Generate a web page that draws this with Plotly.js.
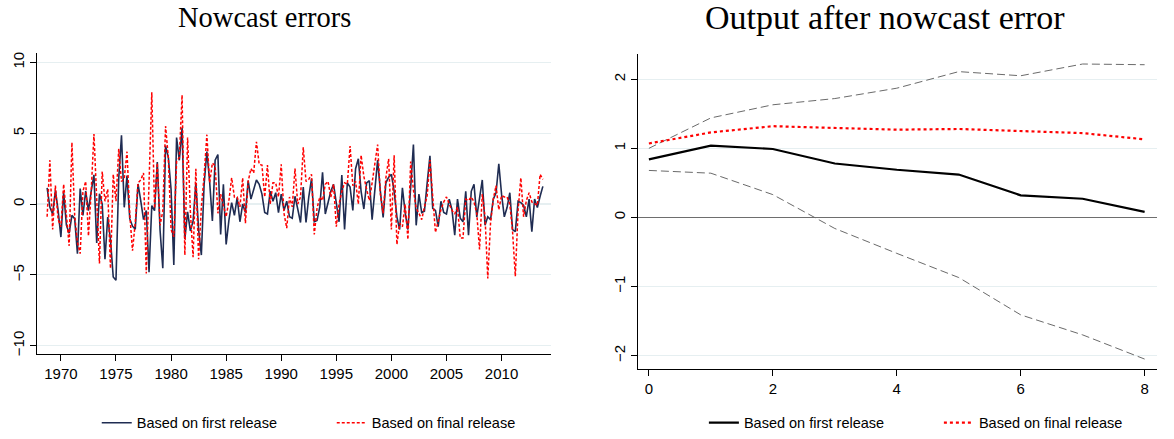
<!DOCTYPE html>
<html>
<head>
<meta charset="utf-8">
<script src="https://cdn.plot.ly/plotly-3.0.1.min.js"></script>
<style>html,body{margin:0;padding:0;background:#fff;}#chart{width:1174px;height:439px;}</style>
</head>
<body>
<div id="chart"></div>
<script>
// ---- Left panel: quarterly nowcast errors, 1968Q4 .. 2013Q4 ----
const startQuarter = 1968.75;   // 1968Q4
const quarterStep = 0.25;
const firstRelease = [
 1.14,-0.23,-0.69,0.96,-0.46,-2.33,0.80,-1.49,-2.06,-0.80,
 -1.03,-3.50,1.10,-0.80,0.92,-0.46,0.92,2.06,-2.75,0.73,
 0.00,-3.89,-0.92,-2.52,-5.15,-5.38,1.83,4.85,-0.23,2.01,
 -1.03,-1.56,-1.78,1.42,0.23,-1.10,-0.46,-4.81,-0.11,-0.46,
 2.97,-1.83,-4.53,4.12,3.32,1.03,-4.30,4.69,3.09,5.38,
 -2.47,-0.55,-1.90,-1.20,1.50,-1.80,-3.60,1.40,3.70,1.60,
 -1.20,3.10,3.50,-2.15,1.40,-2.85,-1.15,0.10,-0.80,0.45,
 -1.25,0.00,-0.60,1.65,0.35,1.10,1.70,1.40,0.70,-0.60,
 -0.70,0.90,0.20,0.80,-0.60,0.70,-0.45,0.20,-0.90,-1.00,
 0.55,-0.35,-1.30,1.20,-1.30,0.50,1.80,-1.25,-1.15,-0.20,
 2.25,-0.70,0.20,0.90,1.40,0.00,-1.25,2.05,-1.80,1.50,
 1.20,-0.45,2.50,3.20,0.90,-0.35,1.50,1.65,-1.10,1.00,
 3.10,0.90,-0.95,1.50,1.90,2.10,0.90,-0.90,-1.80,1.15,
 -0.60,-1.80,1.40,4.20,-1.50,0.70,-0.60,-0.50,1.50,3.40,
 -0.30,-0.45,-1.60,0.20,-0.60,-0.70,0.35,-0.40,-2.20,0.35,
 -1.00,-1.25,0.90,-2.20,0.90,1.40,-0.90,0.30,1.70,-1.50,
 -0.90,-1.10,0.35,0.80,2.85,0.70,-0.90,-0.25,0.80,-1.80,
 -1.95,0.20,0.10,-0.10,-0.90,0.35,-1.95,0.35,-0.25,0.55,1.25
];
const finalRelease = [
 -0.90,3.10,-1.80,1.30,-1.10,-1.60,1.40,-0.70,-2.95,4.35,
 -0.80,-2.70,-3.50,0.90,1.60,-2.25,0.90,4.95,0.20,-4.20,
 2.30,0.20,1.05,-4.55,2.10,0.20,3.90,1.60,1.80,3.70,
 -0.70,-3.30,-1.30,1.50,1.70,2.20,-4.90,1.00,7.90,-0.30,
 2.90,-1.50,-0.50,5.50,3.30,-1.80,-2.30,3.00,3.30,7.70,
 -3.60,4.70,-0.50,-3.75,2.50,-3.90,-0.20,2.00,4.90,1.50,
 2.90,2.70,-0.65,0.70,-0.20,-0.90,0.25,1.85,0.50,0.50,
 -0.20,1.85,-1.35,1.60,2.50,2.20,4.40,2.80,2.75,0.50,
 2.75,0.00,1.50,1.50,0.50,2.80,-0.65,-1.70,0.50,-0.20,
 2.50,0.00,0.50,4.00,1.60,1.75,2.10,-2.15,-0.30,0.50,
 0.25,1.40,1.60,0.50,1.40,-1.60,0.00,0.90,1.50,1.40,
 4.10,1.30,1.60,0.00,3.45,1.95,1.05,0.25,1.50,3.00,
 4.20,0.70,-0.65,1.85,3.20,-1.80,3.45,-2.85,-1.35,-1.60,
 0.00,-2.50,3.00,1.00,-0.30,-0.65,-1.10,-0.20,0.60,3.10,
 0.25,-2.00,-1.20,-0.40,0.15,0.50,0.00,-0.45,-0.70,-0.20,
 -2.40,-2.40,0.35,0.25,0.50,0.15,-0.65,-3.20,0.70,-0.90,
 -5.25,-1.35,0.35,1.30,-0.40,0.60,0.50,0.50,0.00,-1.95,
 -5.10,-0.45,1.85,-0.90,0.25,0.80,0.15,0.00,-0.10,2.10,1.75
];
const leftXTicks = [1970,1975,1980,1985,1990,1995,2000,2005,2010];
const leftYTicks = [-10,-5,0,5,10];
const leftYLabels = ['\u221210','\u22125','0','5','10'];

// ---- Right panel: response of output after nowcast error ----
const horizon = [0,1,2,3,4,5,6,7,8];
const irfFirst = [0.84,1.04,0.99,0.78,0.69,0.62,0.32,0.27,0.08];
const irfFinal = [1.07,1.23,1.32,1.29,1.27,1.28,1.25,1.22,1.13];
const bandUpper = [1.00,1.44,1.63,1.72,1.87,2.11,2.05,2.22,2.21];
const bandLower = [0.68,0.64,0.33,-0.16,-0.52,-0.87,-1.41,-1.70,-2.05];
const rightXTicks = [0,2,4,6,8];
const rightYTicks = [-2,-1,0,1,2];
const rightYLabels = ['\u22122','\u22121','0','1','2'];

const legendLabels = ['Based on first release','Based on final release'];
const titles = ['Nowcast errors','Output after nowcast error'];

const sans = 'Liberation Sans, Arial, sans-serif';
const serif = 'Liberation Serif, Times New Roman, serif';
const navy = '#1f2c52';
const red = '#ff0000';

const traces = [
  {x0:startQuarter, dx:quarterStep, y:firstRelease, type:'scatter', mode:'lines',
   name:legendLabels[0], line:{color:navy, width:1.6}, xaxis:'x', yaxis:'y', legend:'legend'},
  {x0:startQuarter, dx:quarterStep, y:finalRelease, type:'scatter', mode:'lines',
   name:legendLabels[1], line:{color:red, width:1.5, dash:'3px,2px'}, xaxis:'x', yaxis:'y', legend:'legend'},
  {x:horizon, y:bandUpper, type:'scatter', mode:'lines', showlegend:false,
   line:{color:'#6a6a6a', width:1, dash:'8px,4px'}, xaxis:'x2', yaxis:'y2'},
  {x:horizon, y:bandLower, type:'scatter', mode:'lines', showlegend:false,
   line:{color:'#6a6a6a', width:1, dash:'8px,4px'}, xaxis:'x2', yaxis:'y2'},
  {x:horizon, y:irfFirst, type:'scatter', mode:'lines',
   name:legendLabels[0], line:{color:'#000000', width:2.2}, xaxis:'x2', yaxis:'y2', legend:'legend2'},
  {x:horizon, y:irfFinal, type:'scatter', mode:'lines',
   name:legendLabels[1], line:{color:red, width:2.2, dash:'dot'}, xaxis:'x2', yaxis:'y2', legend:'legend2'}
];

const tickFont = {family:sans, size:15, color:'#000'};
const baseX = {ticks:'outside', ticklen:6, tickwidth:1, tickcolor:'#000', showline:true,
  linecolor:'#000', linewidth:1, showgrid:false, zeroline:false, tickfont:tickFont,
  fixedrange:true};
const baseY = Object.assign({}, baseX, {showgrid:true, gridcolor:'#e6eff1', gridwidth:1.2, tickangle:-90});

const legendBase = {orientation:'h', yanchor:'bottom', y:-0.03, xanchor:'left',
  font:{family:sans, size:14.5, color:'#000'}, bgcolor:'rgba(0,0,0,0)',
  entrywidth:190, entrywidthmode:'pixels', tracegroupgap:0};

const layout = {
  width:1174, height:439,
  margin:{l:0, r:0, t:0, b:0},
  paper_bgcolor:'#fff', plot_bgcolor:'#fff',
  showlegend:true,
  xaxis:Object.assign({}, baseX, {domain:[37.7/1174, 557.7/1174], range:[1967.85, 2014.45],
    tickvals:leftXTicks, anchor:'y'}),
  yaxis:Object.assign({}, baseY, {domain:[1-365/439, 1-55/439], range:[-10.6, 10.64],
    tickvals:leftYTicks, ticktext:leftYLabels, anchor:'x'}),
  xaxis2:Object.assign({}, baseX, {domain:[646/1174, 1172/1174], range:[-0.18, 8.2],
    tickvals:rightXTicks, anchor:'y2'}),
  yaxis2:Object.assign({}, baseY, {domain:[1-380/439, 1-56/439], range:[-2.19, 2.36],
    tickvals:rightYTicks, ticktext:rightYLabels, anchor:'x2',
    zeroline:true, zerolinecolor:'#6e6e6e', zerolinewidth:1.6}),
  legend:Object.assign({}, legendBase, {x:98/1174}),
  legend2:Object.assign({}, legendBase, {x:713/1174}),
  annotations:[
    {text:titles[0], xref:'paper', yref:'paper', x:268/1174, y:1-18/439, xanchor:'center', yanchor:'middle',
     showarrow:false, font:{family:serif, size:28.5, color:'#000'}},
    {text:titles[1], xref:'paper', yref:'paper', x:896/1174, y:1-18/439, xanchor:'center', yanchor:'middle',
     showarrow:false, font:{family:serif, size:34, color:'#000'}}
  ]
};

Plotly.newPlot('chart', traces, layout, {staticPlot:true, displayModeBar:false});
</script>
</body>
</html>
